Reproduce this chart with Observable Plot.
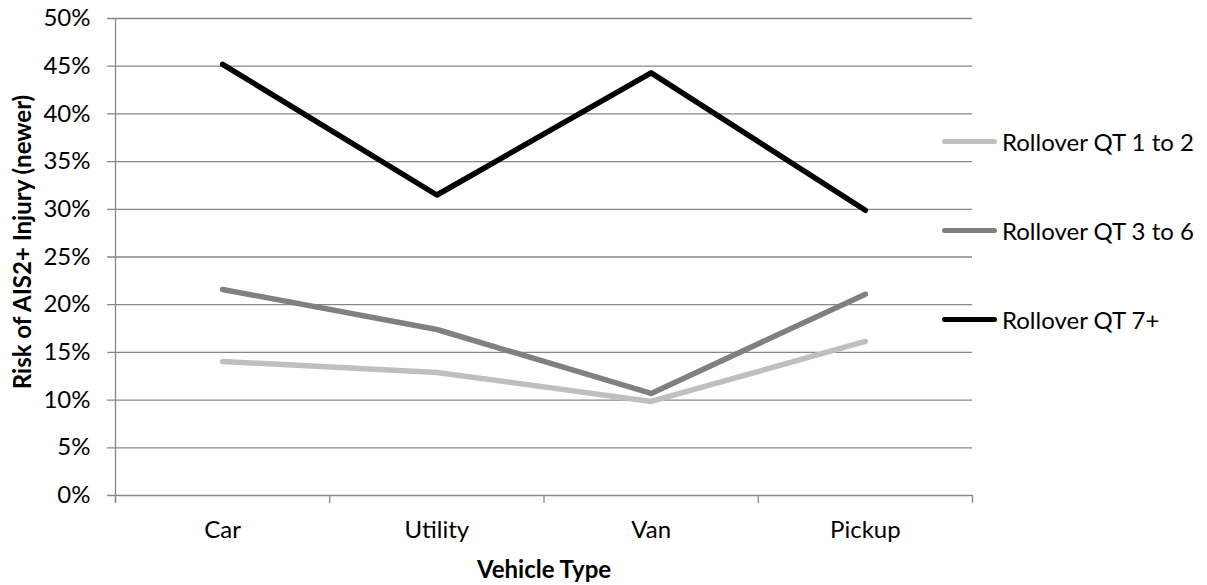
<!DOCTYPE html>
<html>
<head>
<meta charset="utf-8">
<script src="https://cdn.jsdelivr.net/npm/d3@7"></script>
<script src="https://cdn.jsdelivr.net/npm/@observablehq/plot@0.6"></script>
<style>
  body { margin: 0; background: #fff; }
  #wrap { position: relative; width: 1207px; height: 585px; font-family: Lato, sans-serif; }
  #wrap svg text { fill: #000; }
  .legend { position: absolute; left: 942px; top: 126px; font-size: 24px; color: #000; }
  .item { display: flex; align-items: center; height: 30px; margin-bottom: 59px; white-space: nowrap; }
  .sw { width: 55px; height: 5px; border-radius: 3px; margin-right: 5px; }
</style>
</head>
<body>
<div id="wrap"></div>
<script>
const categories = ["Car", "Utility", "Van", "Pickup"];
const seriesNames = ["Rollover QT 1 to 2", "Rollover QT 3 to 6", "Rollover QT 7+"];
const qt1to2  = [0.1405, 0.129, 0.0986, 0.1615];
const qt3to6  = [0.216, 0.174, 0.107, 0.211];
const qt7plus = [0.452, 0.315, 0.443, 0.299];
const seriesColors = ["#bfbfbf", "#808080", "#000000"];
const yTicks = [0, 0.05, 0.10, 0.15, 0.20, 0.25, 0.30, 0.35, 0.40, 0.45, 0.50];
const yTitle = "Risk of AIS2+ Injury (newer)";
const xTitle = "Vehicle Type";

const seriesValues = [qt1to2, qt3to6, qt7plus];
const rows = seriesNames.flatMap((s, k) =>
  categories.map((c, i) => ({series: s, category: c, idx: i + 0.5, value: seriesValues[k][i]})));
const boundaries = d3.range(categories.length + 1);
const centers = categories.map((c, i) => i + 0.5);
const gray = "#878787";

const chart = Plot.plot({
  width: 1207,
  height: 585,
  marginLeft: 115,
  marginRight: 235,
  marginTop: 18,
  marginBottom: 90,
  style: {fontFamily: "Lato, sans-serif", fontSize: "24px", color: gray, background: "#fff"},
  x: {type: "linear", domain: [0, categories.length], ticks: centers,
      tickFormat: d => categories[Math.floor(d)], tickSize: 0, tickPadding: 25, label: null},
  y: {domain: [0, 0.5], ticks: yTicks, tickFormat: d3.format(".0%"), tickSize: 0, tickPadding: 25, label: null},
  color: {domain: seriesNames, range: seriesColors},
  marks: [
    Plot.ruleY(yTicks, {stroke: gray, strokeWidth: 1.3, insetLeft: -8}),
    Plot.ruleX([0], {stroke: gray, strokeWidth: 1.3, insetBottom: -8}),
    Plot.ruleX(boundaries, {y1: 0, y2: 0, stroke: gray, strokeWidth: 1.3, insetBottom: -8}),
    Plot.line(rows, {x: "idx", y: "value", z: "series", stroke: "series",
      strokeWidth: 5.5, strokeLinecap: "round", strokeLinejoin: "round"}),
    Plot.text([xTitle], {text: d => d, frameAnchor: "bottom", dy: 82, fontWeight: "bold", fill: "#000"}),
    Plot.text([yTitle], {text: d => d, frameAnchor: "left", textAnchor: "middle", rotate: -90,
      dx: -92, dy: -15, fontWeight: "bold", fill: "#000"})
  ]
});

const wrap = document.getElementById("wrap");
wrap.appendChild(chart);

const legend = document.createElement("div");
legend.className = "legend";
seriesNames.forEach((s, k) => {
  const item = document.createElement("div");
  item.className = "item";
  const sw = document.createElement("div");
  sw.className = "sw";
  sw.style.background = seriesColors[k];
  const t = document.createElement("span");
  t.textContent = s;
  item.appendChild(sw);
  item.appendChild(t);
  legend.appendChild(item);
});
wrap.appendChild(legend);
</script>
</body>
</html>
